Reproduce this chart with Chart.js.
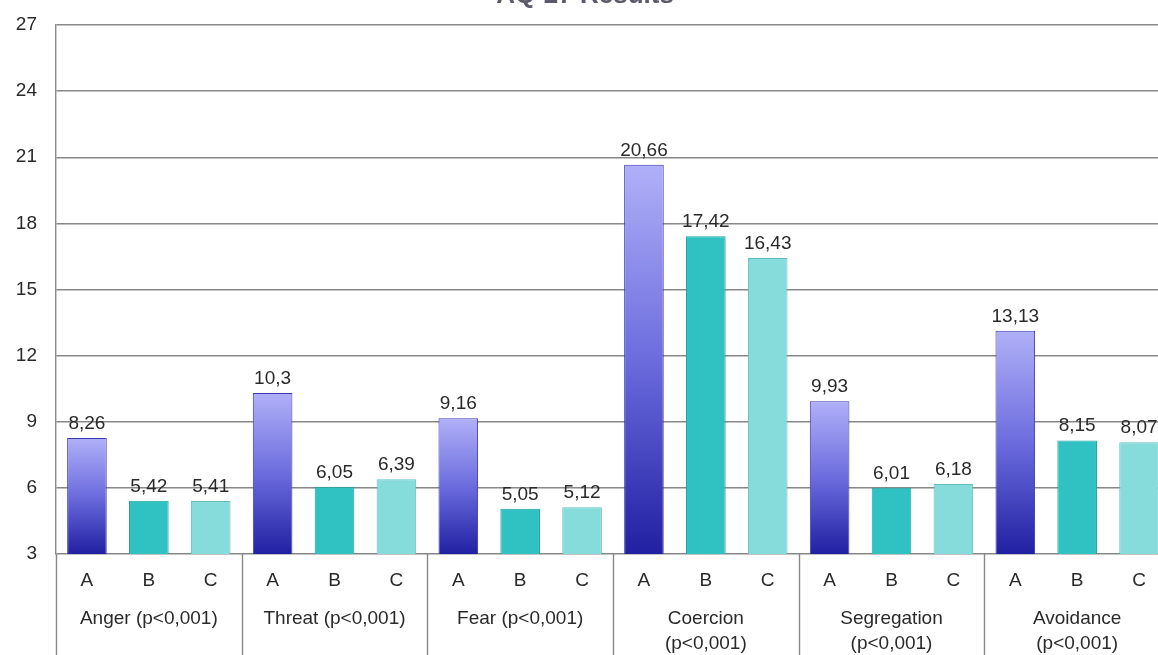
<!DOCTYPE html>
<html>
<head>
<meta charset="utf-8">
<script src="https://cdn.jsdelivr.net/npm/chart.js@4/dist/chart.umd.min.js"></script>
<style>
  html, body { margin: 0; padding: 0; background: #fff; overflow: hidden; width: 1158px; height: 655px; }
  #wrap { position: absolute; left: 0; top: -20px; width: 1172px; height: 675px; }
</style>
</head>
<body>
<div id="wrap"><canvas id="chart" width="1172" height="675"></canvas></div>
<script>
const groups = [
  ["Anger (p<0,001)"],
  ["Threat (p<0,001)"],
  ["Fear (p<0,001)"],
  ["Coercion", "(p<0,001)"],
  ["Segregation", "(p<0,001)"],
  ["Avoidance", "(p<0,001)"]
];
const subLabels = ["A", "B", "C"];
const valuesA = [8.26, 10.3, 9.16, 20.66, 9.93, 13.13];
const valuesB = [5.42, 6.05, 5.05, 17.42, 6.01, 8.15];
const valuesC = [5.41, 6.39, 5.12, 16.43, 6.18, 8.07];
const yMin = 3, yMax = 27, yStep = 3;

// flatten into 18 bars: A, B, C per group
const labels = [];
const values = [];
groups.forEach((g, i) => {
  labels.push(...subLabels);
  values.push(valuesA[i], valuesB[i], valuesC[i]);
});

const textColor = "#2a2a2a";
const gridColor = "#888888";
const font = "'Liberation Sans', Arial, sans-serif";

function barColor(ctx) {
  const k = ctx.dataIndex % 3;
  if (k === 1) return "#30c2c2";
  if (k === 2) return "#86dbdb";
  const chart = ctx.chart;
  const area = chart.chartArea;
  if (!area || ctx.raw == null) return "#6a6ad6";
  const top = chart.scales.y.getPixelForValue(ctx.raw);
  const g = chart.ctx.createLinearGradient(0, top, 0, area.bottom);
  g.addColorStop(0, "#b0b0f8");
  g.addColorStop(0.5, "#6c6cde");
  g.addColorStop(1, "#2020a2");
  return g;
}

function barBorder(ctx) {
  const k = ctx.dataIndex % 3;
  if (k === 1) return "#1f9f9f";
  if (k === 2) return "#64bdbd";
  return "#3a3ab0";
}

const extras = {
  id: "extras",
  afterDatasetsDraw(chart) {
    const c = chart.ctx;
    const meta = chart.getDatasetMeta(0);
    c.save();
    c.fillStyle = textColor;
    c.font = "19px " + font;
    c.textAlign = "center";
    c.textBaseline = "alphabetic";
    meta.data.forEach((bar, i) => {
      const txt = String(values[i]).replace(".", ",");
      c.fillText(txt, bar.x, bar.y - 9);
    });
    c.restore();
  },
  afterDraw(chart) {
    const c = chart.ctx;
    const x = chart.scales.x;
    const area = chart.chartArea;
    const catW = (area.right - area.left) / labels.length;
    c.save();
    c.strokeStyle = gridColor;
    c.lineWidth = 1.4;
    for (let g = 0; g <= groups.length; g++) {
      const px = Math.round(area.left + g * 3 * catW) + 0.5;
      c.beginPath();
      c.moveTo(px, area.bottom);
      c.lineTo(px, chart.height);
      c.stroke();
    }
    c.fillStyle = textColor;
    c.font = "19px " + font;
    c.textAlign = "center";
    c.textBaseline = "middle";
    groups.forEach((lines, g) => {
      const cx = x.getPixelForValue(g * 3 + 1);
      lines.forEach((t, j) => c.fillText(t, cx, 639 + j * 25));
    });
    c.restore();
  }
};

new Chart(document.getElementById("chart"), {
  type: "bar",
  data: {
    labels,
    datasets: [{
      data: values,
      backgroundColor: barColor,
      borderColor: barBorder,
      borderWidth: 1,
      barPercentage: 0.64,
      categoryPercentage: 1
    }]
  },
  options: {
    responsive: false,
    animation: false,
    devicePixelRatio: 1,
    layout: { padding: { left: 0, right: 2, top: 0, bottom: 0 } },
    plugins: {
      legend: { display: false },
      tooltip: { enabled: false },
      title: {
        display: true,
        text: "AQ-27 Results",
        color: "#5a5a6a",
        font: { family: font, size: 26, weight: "bold" },
        padding: { top: 0, bottom: 13.8 }
      }
    },
    scales: {
      x: {
        grid: { display: false, drawTicks: false },
        border: { display: false },
        ticks: { color: textColor, font: { family: font, size: 19 }, padding: 15, maxRotation: 0, autoSkip: false },
        afterFit(scale) { scale.height = 101; }
      },
      y: {
        min: yMin,
        max: yMax,
        grid: { color: gridColor, lineWidth: 1.4, drawTicks: false },
        border: { display: true, color: gridColor, width: 1.4 },
        ticks: { stepSize: yStep, color: textColor, font: { family: font, size: 19 }, padding: 19 },
        afterFit(scale) { scale.width = 56; }
      }
    }
  },
  plugins: [extras]
});
</script>
</body>
</html>
